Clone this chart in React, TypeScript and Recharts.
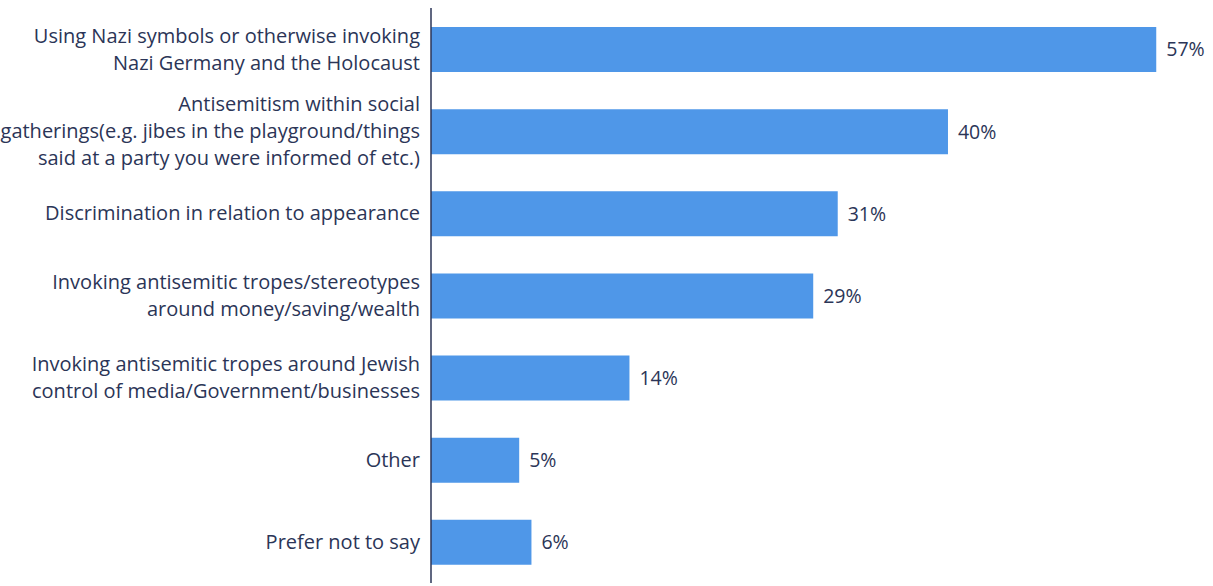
import { BarChart, Bar, XAxis, YAxis, LabelList, ReferenceLine } from 'recharts';

const categories = [
  'Using Nazi symbols or otherwise invoking\nNazi Germany and the Holocaust',
  'Antisemitism within social\ngatherings(e.g. jibes in the playground/things\nsaid at a party you were informed of etc.)',
  'Discrimination in relation to appearance',
  'Invoking antisemitic tropes/stereotypes\naround money/saving/wealth',
  'Invoking antisemitic tropes around Jewish\ncontrol of media/Government/businesses',
  'Other',
  'Prefer not to say',
];

const values = [57, 40, 31, 29, 14, 5, 6];

// bars start a little left of zero, like the original survey chart
const AXIS_MIN = -2.2;
const AXIS_MAX = 60;

const TEXT = '#2b3557';
const BAR = '#4f97e8';
const FONT = '"Open Sans", sans-serif';

const data = categories.map((name, i) => ({ name, value: values[i] }));

const CategoryTick = ({ x, y, payload }: any) => {
  const lines = String(payload.value).split('\n');
  const lh = 27;
  const start = -((lines.length - 1) * lh) / 2;
  return (
    <text x={x} y={y} textAnchor="end" fill={TEXT} fontSize={20} fontFamily={FONT}>
      {lines.map((l, i) => (
        <tspan key={i} x={x} dy={i === 0 ? start + 7 : lh}>
          {l}
        </tspan>
      ))}
    </text>
  );
};

export default function App() {
  return (
    <div style={{ position: 'fixed', left: 0, top: 0, width: 1213, height: 586, background: '#fff' }}>
      <BarChart
        width={1213}
        height={586}
        data={data}
        layout="vertical"
        margin={{ top: 8, right: 20, left: 0, bottom: 3 }}
        barCategoryGap={0}
      >
        <XAxis type="number" domain={[AXIS_MIN, AXIS_MAX]} hide allowDataOverflow />
        <YAxis
          type="category"
          dataKey="name"
          width={431}
          axisLine={false}
          tickLine={false}
          tickMargin={5}
          interval={0}
          tick={<CategoryTick />}
        />
        <Bar
          dataKey={(d: any) => [AXIS_MIN, d.value]}
          fill={BAR}
          barSize={45}
          isAnimationActive={false}
        >
          <LabelList
            dataKey="value"
            position="right"
            offset={10}
            formatter={(v: any) => `${v}%`}
            fill={TEXT}
            fontSize={19.5}
            fontFamily={FONT}
          />
        </Bar>
        <ReferenceLine x={AXIS_MIN} stroke={TEXT} strokeWidth={1.5} ifOverflow="visible" />
      </BarChart>
    </div>
  );
}
